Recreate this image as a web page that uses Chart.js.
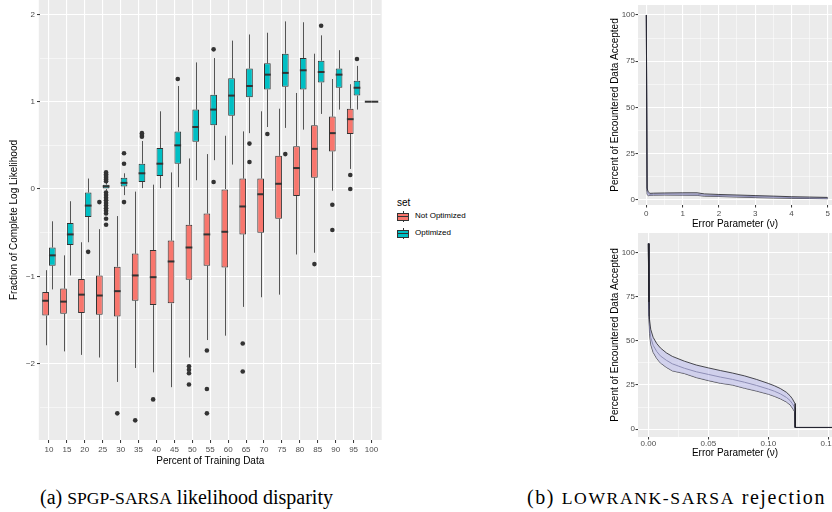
<!DOCTYPE html>
<html>
<head>
<meta charset="utf-8">
<script src="https://cdn.jsdelivr.net/npm/chart.js@4.4.1/dist/chart.umd.min.js"></script>
<style>
  body { margin: 0; background: #fff; }
  #page { position: relative; width: 832px; height: 512px; overflow: hidden; font-family: "Liberation Sans", Arial, sans-serif; }
  canvas { position: absolute; }
  .lg { position: absolute; white-space: nowrap; color: #000; }
  .key { position: absolute; width: 12px; height: 11px; }
  .key .wh { position: absolute; left: 5.5px; top: 0; width: 1px; height: 11px; background: #333; }
  .key .bx { position: absolute; left: 0; top: 1.5px; width: 12px; height: 8px; box-sizing: border-box; border: 1px solid #333; }
  .key .bx::after { content: ""; position: absolute; left: 0; right: 0; top: 2px; height: 1.5px; background: #333; }
  .cap { position: absolute; top: 486px; font-family: "Liberation Serif", "Times New Roman", serif; font-size: 20px; white-space: nowrap; color: #000; }
  .sc { font-size: 0.88em; }
</style>
</head>
<body>
<div id="page">
  <canvas id="boxChart" width="384" height="470" style="left:0;top:0"></canvas>
  <canvas id="topChart" width="232" height="230" style="left:600px;top:0"></canvas>
  <canvas id="bottomChart" width="232" height="230" style="left:600px;top:230px"></canvas>

  <div class="lg" style="left:397px;top:197px;font-size:10px">set</div>
  <div class="key" style="left:397px;top:211px"><div class="wh"></div><div class="bx" style="background:#F8766D"></div></div>
  <div class="lg" style="left:415px;top:211px;font-size:8px">Not Optimized</div>
  <div class="key" style="left:397px;top:228px"><div class="wh"></div><div class="bx" style="background:#00BFC4"></div></div>
  <div class="lg" style="left:415px;top:228px;font-size:8px">Optimized</div>

  <div class="cap" style="left:40px">(a) <span class="sc">SPGP-SARSA</span> likelihood disparity</div>
  <div class="cap" style="left:527px;letter-spacing:1.6px">(b) <span class="sc">LOWRANK-SARSA</span> rejection</div>
</div>
<script>
Chart.defaults.font.family = '"Liberation Sans", Arial, sans-serif';
Chart.defaults.animation = false;
Chart.defaults.responsive = false;
Chart.defaults.devicePixelRatio = 1;
Chart.defaults.plugins.legend.display = false;
Chart.defaults.plugins.tooltip.enabled = false;

// ---- (a) boxplots ----
const categories = ['10','15','20','25','30','35','40','45','50','55','60','65','70','75','80','85','90','95','100'];

const notLo  = [-1.79,-1.86,-1.90,-1.93,-2.21,-2.05,-2.10,-2.27,-1.93,-1.73,-1.68,-1.35,-1.24,-1.21,-0.75,-0.73,-0.02,0.23,1];
const notQ1  = [-1.45,-1.43,-1.42,-1.44,-1.46,-1.28,-1.33,-1.31,-1.04,-0.88,-0.90,-0.52,-0.50,-0.34,-0.08,0.13,0.43,0.63,1];
const notMed = [-1.28,-1.29,-1.21,-1.22,-1.17,-0.99,-1.01,-0.83,-0.67,-0.52,-0.49,-0.20,-0.06,0.06,0.24,0.46,0.64,0.80,1];
const notQ3  = [-1.18,-1.14,-1.03,-0.99,-0.89,-0.74,-0.70,-0.59,-0.41,-0.28,0.00,0.12,0.12,0.38,0.49,0.73,0.83,0.92,1];
const notHi  = [-0.93,-0.76,-0.61,-0.46,-0.31,-0.03,0.05,0.19,0.35,0.40,0.61,0.66,0.89,0.92,1.10,1.55,1.26,1.20,1];
const notOut = [[],[],[],[-0.15],[-2.57],[-2.65],[-2.41],[],[-2.03,-2.07,-2.11,-2.24],[-1.85,-2.29,-2.57],[],[-1.77,-2.09],[],[],[],[-0.86],[-0.18,-0.47],[0.16,0.00],[]];

const optLo  = [-1.15,-0.99,-0.61,-0.02,-0.07,0.01,0.01,0.02,0.10,0.33,0.28,0.64,0.71,0.70,0.68,0.86,0.91,0.91,1];
const optQ1  = [-0.88,-0.64,-0.32,0.00,0.03,0.08,0.15,0.29,0.54,0.73,0.84,1.05,1.14,1.17,1.14,1.22,1.16,1.07,1];
const optMed = [-0.76,-0.52,-0.19,0.03,0.07,0.18,0.29,0.50,0.71,0.91,1.07,1.18,1.31,1.33,1.36,1.34,1.31,1.16,1];
const optQ3  = [-0.67,-0.39,-0.04,0.05,0.13,0.29,0.47,0.66,0.91,1.08,1.27,1.38,1.44,1.55,1.50,1.47,1.38,1.24,1];
const optHi  = [-0.37,-0.14,0.12,0.07,0.18,0.55,0.89,1.18,1.45,1.50,1.70,1.77,1.79,1.92,1.91,1.76,1.59,1.41,1];
const optOut = [[],[],[-0.72],
  [0.19,0.17,0.15,0.13,0.11,0.09,-0.04,-0.07,-0.10,-0.13,-0.16,-0.19,-0.22,-0.25,-0.28,-0.34,-0.41],
  [0.41,0.29,-0.15],[0.60,0.62,0.64],[],[1.26],[],[1.60,0.08],[],[0.52,0.31],[0.63],[0.40],[],[1.87],[],[1.49],[]];

const yTicksA = [-2, -1, 0, 1, 2];

// ---- (b) rejection curves ----
const topX     = [0, 0.02, 0.05, 0.1, 0.2, 0.5, 1.0, 1.4, 1.6, 2.0, 2.5, 3.0, 3.5, 4.0, 4.5, 5.0];
const topUpper = [100, 6.5, 4.5, 3.6, 3.7, 3.8, 3.9, 3.9, 3.3, 3.0, 2.7, 2.4, 2.1, 1.8, 1.6, 1.4];
const topMean  = [100, 5.0, 3.4, 3.0, 3.1, 3.2, 3.2, 3.1, 2.6, 2.4, 2.1, 1.8, 1.6, 1.3, 1.1, 1.0];
const topLower = [100, 3.2, 2.3, 2.5, 2.6, 2.7, 2.6, 2.5, 2.1, 1.9, 1.6, 1.3, 1.1, 0.9, 0.8, 0.7];

const botX     = [0, 0.0005, 0.001, 0.002, 0.004, 0.007, 0.01, 0.015, 0.02, 0.03, 0.04, 0.05, 0.06, 0.07, 0.08, 0.09, 0.1, 0.105, 0.11, 0.115, 0.118, 0.12, 0.1222, 0.1224, 0.153];
const botUpper = [105, 72, 62, 56.5, 52, 48.5, 46, 43.2, 41.2, 38.5, 36.3, 34.7, 33.2, 31.8, 30.2, 28.2, 25.9, 24.6, 23, 20.9, 19, 17.2, 14.5, 1, 1];
const botMean  = [105, 68, 58, 52, 47.5, 44, 41.5, 39, 37, 34.5, 32.5, 31, 29.5, 28.2, 26.6, 24.8, 22.7, 21.5, 20, 18, 16.3, 14.5, 12, 1, 1];
const botLower = [105, 64, 54, 48, 43.5, 40, 37.5, 35, 33, 31.5, 29.2, 27.5, 26, 25, 23.2, 21.6, 19.8, 18.6, 17.2, 15.4, 13.8, 12, 9.5, 1, 1];

const TICK_COLOR = '#4D4D4D';
const isMult = (v, step) => Math.abs(v / step - Math.round(v / step)) < 1e-6;
const minus = v => (v < 0 ? '\u2212' + Math.abs(v) : String(v));

// fix axis box sizes so the panels land where the reference has them
const fixScale = (w, h) => scale => {
  if (w != null) scale.width = w;
  if (h != null) scale.height = h;
  scale.paddingLeft = scale.paddingRight = scale.paddingTop = scale.paddingBottom = 0;
};

// grey ggplot panel
const panelBg = {
  id: 'panelBg',
  beforeDraw(chart, args, opts) {
    const { ctx, chartArea: a } = chart;
    const ext = opts.extend || 0;
    ctx.save();
    ctx.fillStyle = '#EBEBEB';
    ctx.fillRect(a.left - ext, a.top, a.right - a.left + 2 * ext, a.bottom - a.top);
    ctx.restore();
  }
};

// whiskers, medians and outliers around the floating bars
const boxStats = [
  { lo: notLo, med: notMed, q1: notQ1, q3: notQ3, hi: notHi, out: notOut },
  { lo: optLo, med: optMed, q1: optQ1, q3: optQ3, hi: optHi, out: optOut }
];
const boxExtras = {
  id: 'boxExtras',
  beforeDatasetsDraw(chart) {
    const ctx = chart.ctx, y = chart.scales.y;
    ctx.save();
    ctx.strokeStyle = '#555555';
    ctx.lineWidth = 1;
    boxStats.forEach((s, di) => {
      chart.getDatasetMeta(di).data.forEach((bar, i) => {
        const x = Math.round(bar.x) + 0.5;
        ctx.beginPath();
        ctx.moveTo(x, y.getPixelForValue(s.q3[i]));
        ctx.lineTo(x, y.getPixelForValue(s.hi[i]));
        ctx.moveTo(x, y.getPixelForValue(s.q1[i]));
        ctx.lineTo(x, y.getPixelForValue(s.lo[i]));
        ctx.stroke();
      });
    });
    ctx.restore();
  },
  afterDatasetsDraw(chart) {
    const ctx = chart.ctx, y = chart.scales.y;
    ctx.save();
    boxStats.forEach((s, di) => {
      chart.getDatasetMeta(di).data.forEach((bar, i) => {
        const half = bar.width / 2;
        ctx.strokeStyle = '#333333';
        ctx.lineWidth = 2;
        ctx.beginPath();
        const my = y.getPixelForValue(s.med[i]);
        ctx.moveTo(bar.x - half, my);
        ctx.lineTo(bar.x + half, my);
        ctx.stroke();
        ctx.fillStyle = '#333333';
        s.out[i].forEach(v => {
          ctx.beginPath();
          ctx.arc(bar.x, y.getPixelForValue(v), 2.3, 0, Math.PI * 2);
          ctx.fill();
        });
      });
    });
    ctx.restore();
  }
};

new Chart(document.getElementById('boxChart'), {
  type: 'bar',
  data: {
    labels: categories,
    datasets: [
      {
        label: 'Not Optimized',
        data: notQ1.map((v, i) => [v, notQ3[i]]),
        backgroundColor: '#F8766D', borderColor: '#333333', borderWidth: 1, borderSkipped: false,
        categoryPercentage: 0.75, barPercentage: 1
      },
      {
        label: 'Optimized',
        data: optQ1.map((v, i) => [v, optQ3[i]]),
        backgroundColor: '#00BFC4', borderColor: '#333333', borderWidth: 1, borderSkipped: false,
        categoryPercentage: 0.75, barPercentage: 1
      }
    ]
  },
  options: {
    layout: { padding: { left: 0, right: 3.5, top: 0, bottom: 0 } },
    plugins: { panelBg: { extend: 1.2 } },
    scales: {
      x: {
        offset: true,
        grid: { offset: false, color: '#ffffff', lineWidth: 1.1, tickColor: '#333333', tickWidth: 1, tickLength: 3 },
        border: { display: false },
        ticks: { color: TICK_COLOR, font: { size: 8 }, padding: 2, maxRotation: 0, autoSkip: false },
        title: { display: true, text: 'Percent of Training Data', color: '#000', font: { size: 10 }, padding: { top: 0, bottom: 3 } },
        afterFit: fixScale(null, 30)
      },
      y: {
        min: -2.875, max: 2.165,
        ticks: {
          stepSize: 0.5, includeBounds: false, color: TICK_COLOR, font: { size: 8 }, padding: 2,
          callback: v => (yTicksA.includes(v) ? minus(v) : '')
        },
        grid: {
          color: '#ffffff',
          lineWidth: c => (isMult(c.tick.value, 1) ? 1.1 : 0.5),
          tickColor: c => (isMult(c.tick.value, 1) ? '#333333' : 'rgba(0,0,0,0)'),
          tickWidth: 1, tickLength: 3
        },
        border: { display: false },
        title: { display: true, text: 'Fraction of Complete Log Likelihood', color: '#000', font: { size: 10 }, padding: { top: 8, bottom: 0 } },
        afterFit: fixScale(40, null)
      }
    }
  },
  plugins: [panelBg, boxExtras]
});

function bandChart(id, xs, upper, mean, lower, cfg) {
  const pts = arr => arr.map((v, i) => ({ x: xs[i], y: v }));
  return new Chart(document.getElementById(id), {
    type: 'line',
    data: {
      datasets: [
        { data: pts(upper), borderColor: '#1f1f24', borderWidth: 0.8, pointRadius: 0, fill: '+2', backgroundColor: 'rgba(192,192,236,0.62)' },
        { data: pts(mean), borderColor: '#3d3d5e', borderWidth: 1, pointRadius: 0, fill: false },
        { data: pts(lower), borderColor: '#1f1f24', borderWidth: 0.8, pointRadius: 0, fill: false }
      ]
    },
    options: {
      layout: { padding: { left: 0, right: 0, top: cfg.top, bottom: 0 } },
      scales: {
        x: {
          type: 'linear', min: cfg.xMin, max: cfg.xMax,
          ticks: {
            stepSize: cfg.xStep, includeBounds: false, color: TICK_COLOR, font: { size: 8 }, padding: cfg.xPad, maxRotation: 0, autoSkip: false,
            callback: v => (isMult(v, cfg.xMajor) ? cfg.xFmt(v) : '')
          },
          grid: {
            color: '#ffffff',
            lineWidth: c => (isMult(c.tick.value, cfg.xMajor) ? 1.1 : 0.5),
            tickColor: c => (isMult(c.tick.value, cfg.xMajor) ? '#333333' : 'rgba(0,0,0,0)'),
            tickWidth: 1, tickLength: 2.5
          },
          border: { display: false },
          title: { display: true, text: 'Error Parameter (\u03BD)', color: '#000', font: { size: 10 }, padding: { top: 0, bottom: cfg.titlePad } },
          afterFit: fixScale(null, cfg.xH)
        },
        y: {
          min: cfg.yMin, max: cfg.yMax,
          ticks: {
            stepSize: 12.5, includeBounds: false, color: TICK_COLOR, font: { size: 8 }, padding: 0.5,
            callback: v => (isMult(v, 25) ? String(v) : '')
          },
          grid: {
            color: '#ffffff',
            lineWidth: c => (isMult(c.tick.value, 25) ? 1.1 : 0.5),
            tickColor: c => (isMult(c.tick.value, 25) ? '#333333' : 'rgba(0,0,0,0)'),
            tickWidth: 1, tickLength: 2.5
          },
          border: { display: false },
          title: { display: true, text: 'Percent of Encountered Data Accepted', color: '#000', font: { size: 10 }, padding: { top: 9, bottom: 0 } },
          afterFit: fixScale(38, null)
        }
      }
    },
    plugins: [panelBg]
  });
}

bandChart('topChart', topX, topUpper, topMean, topLower, {
  top: 5, xH: 25, xMin: -0.23, xMax: 5.12, xStep: 0.5, xMajor: 1, xFmt: v => String(v),
  xPad: 1.5, titlePad: 0, yMin: -2.7, yMax: 105.4
});
bandChart('bottomChart', botX, botUpper, botMean, botLower, {
  top: 3, xH: 23, xMin: -0.0086, xMax: 0.153, xStep: 0.025, xMajor: 0.05, xFmt: v => v.toFixed(2),
  xPad: -1, titlePad: 1, yMin: -4.4, yMax: 111
});
</script>
</body>
</html>
